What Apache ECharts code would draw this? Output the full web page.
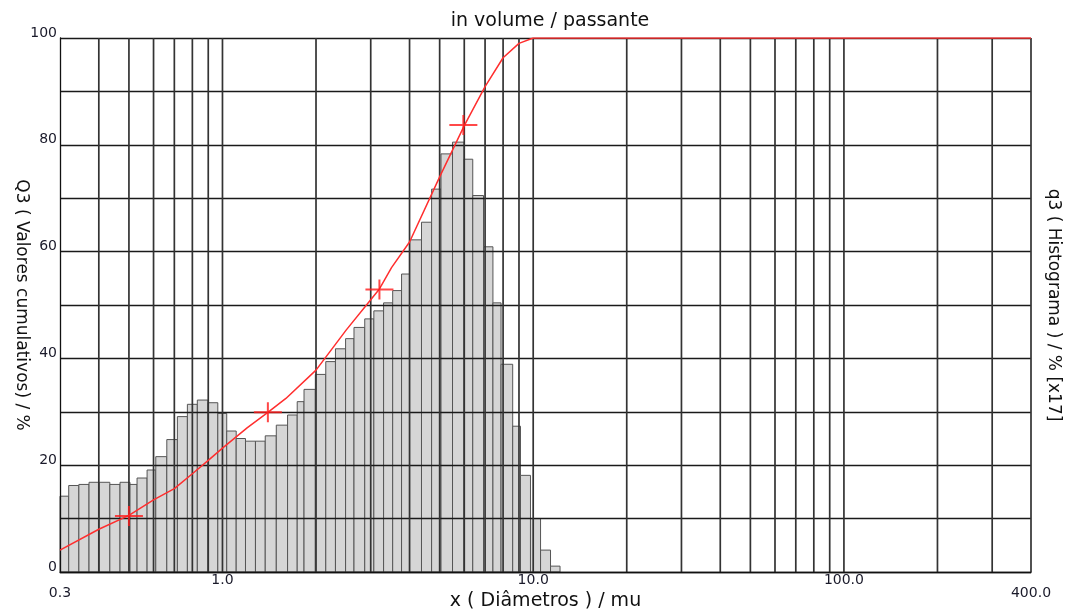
<!DOCTYPE html>
<html>
<head>
<meta charset="utf-8">
<title>in volume / passante</title>
<script src="https://cdn.jsdelivr.net/npm/echarts@6/dist/echarts.min.js"></script>
<style>
  html, body { margin: 0; padding: 0; background: #ffffff; }
  #chart { width: 1076px; height: 612px; }
</style>
</head>
<body>
<div id="chart"></div>
<script>
// Histogram class boundaries (µm) and class heights q3
const binEdges = [0.300, 0.320, 0.345, 0.372, 0.401, 0.434, 0.468, 0.504, 0.531, 0.572,
  0.610, 0.662, 0.716, 0.771, 0.830, 0.898, 0.966, 1.032, 1.107, 1.186,
  1.277, 1.373, 1.49, 1.62, 1.74, 1.83, 1.99, 2.15, 2.31, 2.49,
  2.65, 2.87, 3.07, 3.30, 3.53, 3.77, 4.00, 4.37, 4.71, 5.05,
  5.50, 5.99, 6.39, 6.92, 7.42, 7.88, 8.59, 9.10, 9.80, 10.56,
  11.37, 12.2];
const q3Hist = [14.2, 16.2, 16.4, 16.8, 16.8, 16.4, 16.8, 16.4, 17.6, 19.1,
  21.6, 24.8, 29.1, 31.4, 32.2, 31.7, 29.7, 26.4, 25.0, 24.5,
  24.5, 25.5, 27.5, 29.4, 31.9, 34.2, 37.0, 39.4, 41.8, 43.7,
  45.8, 47.4, 48.9, 50.4, 52.7, 55.8, 62.2, 65.5, 71.7, 78.3,
  80.5, 77.3, 70.5, 60.9, 50.4, 38.9, 27.3, 18.1, 10.0, 4.1,
  1.1];

// Cumulative passing curve Q3
const cumDiam = [0.3, 0.4, 0.5, 0.6, 0.7, 0.8, 0.9, 1.0, 1.2, 1.4, 1.6, 2.0, 2.5, 3.0, 3.2, 3.5,
  4.0, 5.0, 6.0, 7.0, 8.0, 9.0, 10.0, 400];
const cumQ3 = [4.1, 8.0, 10.6, 13.5, 15.6, 18.4, 20.9, 23.2, 27.0, 29.9, 32.5, 37.8, 45.3, 51.0, 53.0, 57.0,
  61.8, 74.0, 83.6, 90.9, 96.3, 99.0, 100, 100];

// Characteristic diameters marked on the curve
const markDiam = [0.5, 1.4, 3.2, 5.96];
const markQ3 = [10.5, 29.9, 52.9, 83.7];

// Axis graduations
const xGrid = [0.4, 0.5, 0.6, 0.7, 0.8, 0.9, 1, 2, 3, 4, 5, 6, 7, 8, 9, 10,
  20, 30, 40, 50, 60, 70, 80, 90, 100, 200, 300, 400];
const xLabels = [0.3, 1, 10, 100, 400];
const xMin = 0.3, xMax = 400;
const yMin = 0, yMax = 100, yStep = 10, yLabelStep = 20;

const FONT = 'DejaVu Sans, Liberation Sans, sans-serif';
const chart = echarts.init(document.getElementById('chart'), null, { renderer: 'canvas' });

const option = {
  animation: false,
  backgroundColor: '#ffffff',
  title: {
    text: 'in volume / passante',
    left: 545, top: 7, textAlign: 'center',
    textStyle: { fontFamily: FONT, fontSize: 19, fontWeight: 'normal', color: '#111' }
  },
  grid: { left: 60, right: 45, top: 38, bottom: 40, containLabel: false, outerBoundsMode: 'none' },
  xAxis: {
    type: 'log', logBase: 10, min: xMin, max: xMax, z: 3,
    name: 'x ( Diâmetros ) / mu', nameLocation: 'middle', nameGap: 20, nameMoveOverlap: false,
    nameTextStyle: { fontFamily: FONT, fontSize: 19, color: '#111' },
    axisLine: { show: true, lineStyle: { color: '#111', width: 1.3 } },
    axisTick: { show: false },
    splitLine: { show: false },
    axisLabel: {
      customValues: xLabels,
      showMinLabel: true, showMaxLabel: true,
      margin: 2, lineHeight: 13,
      fontFamily: FONT, fontSize: 14, color: '#1a1a2a',
      formatter: function (v) {
        const s = Number(v).toFixed(1);
        return (Math.abs(v - xMin) < 1e-6 || Math.abs(v - xMax) < 1e-6) ? '\n' + s : s;
      }
    }
  },
  yAxis: [{
    type: 'value', min: yMin, max: yMax, interval: yStep, z: 3,
    name: 'Q3 ( Valores cumulativos) / %', nameLocation: 'middle', nameGap: 30, nameRotate: -90,
    nameMoveOverlap: false,
    nameTextStyle: { fontFamily: FONT, fontSize: 17, color: '#111' },
    axisLine: { show: true, lineStyle: { color: '#111', width: 1.3 } },
    axisTick: { show: false },
    splitLine: { show: true, lineStyle: { color: '#1a1a1a', width: 1.3 } },
    axisLabel: {
      margin: 3, verticalAlign: 'bottom', lineHeight: 10,
      fontFamily: FONT, fontSize: 14, color: '#1a1a2a',
      formatter: function (v) { return v % yLabelStep === 0 ? String(v) : ''; }
    }
  }, {
    type: 'value', min: yMin, max: yMax, position: 'right',
    name: 'q3 ( Histograma ) / % [x17]', nameLocation: 'middle', nameGap: 14, nameRotate: -90,
    nameMoveOverlap: false,
    nameTextStyle: { fontFamily: FONT, fontSize: 17, color: '#111' },
    axisLine: { show: false }, axisTick: { show: false },
    axisLabel: { show: false }, splitLine: { show: false }
  }],
  series: [{
    // histogram classes
    type: 'custom', z: 2,
    data: q3Hist.map(function (h, i) { return [binEdges[i], binEdges[i + 1], h]; }),
    encode: { x: [0, 1], y: 2 },
    renderItem: function (params, api) {
      const lo = api.coord([api.value(0), 0]);
      const hi = api.coord([api.value(1), api.value(2)]);
      return {
        type: 'rect',
        shape: { x: lo[0], y: hi[1], width: hi[0] - lo[0], height: lo[1] - hi[1] },
        style: { fill: '#d6d6d6', stroke: '#555555', lineWidth: 1 }
      };
    }
  }, {
    // vertical log grid at every integer multiple of a decade
    type: 'custom', z: 3, silent: true,
    data: xGrid.map(function (v) { return [v]; }),
    encode: { x: 0 },
    renderItem: function (params, api) {
      const a = api.coord([api.value(0), yMin]);
      const b = api.coord([api.value(0), yMax]);
      return {
        type: 'line',
        shape: { x1: a[0], y1: a[1], x2: b[0], y2: b[1] },
        style: { stroke: '#333333', lineWidth: 1.7 }
      };
    }
  }, {
    type: 'line', z: 5,
    data: cumDiam.map(function (d, i) { return [d, cumQ3[i]]; }),
    showSymbol: false, smooth: false,
    lineStyle: { color: '#ff2e2e', width: 1.5 }
  }, {
    type: 'scatter', z: 6,
    data: markDiam.map(function (d, i) { return [d, markQ3[i]]; }),
    symbol: 'path://M0,9H28V11H0Z M13,0H15V20H13Z',
    symbolSize: [28, 20],
    itemStyle: { color: '#ff1a1a' }
  }]
};

chart.setOption(option);
</script>
</body>
</html>
